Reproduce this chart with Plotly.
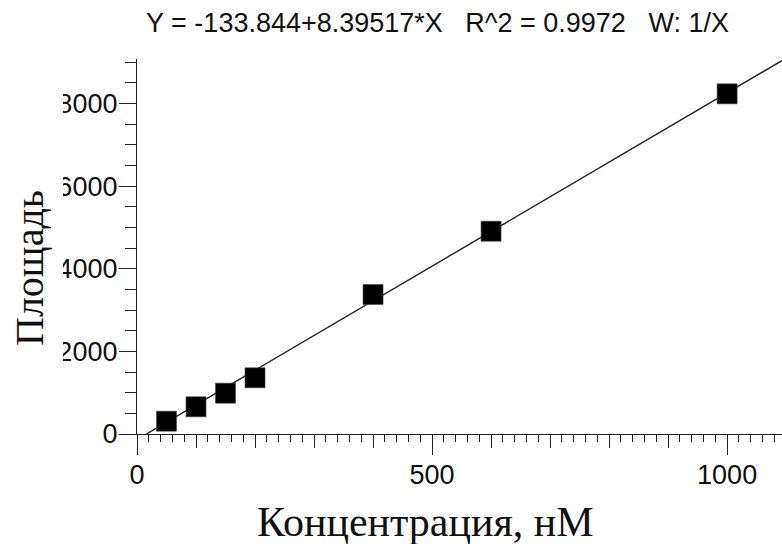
import plotly.graph_objects as go

# Calibration standards: concentration (nM) and measured peak area
concentration = [50, 100, 150, 200, 400, 600, 1000]
area = [310, 659, 988, 1361, 3378, 4910, 8237]

# Weighted (1/X) linear fit coefficients
INTERCEPT = -133.844
SLOPE = 8.39517
R2 = 0.9972

X_MAX = 1093
Y_MAX = 9080

# Fit line from its x-intercept to the right edge of the axis
fit_x = [-INTERCEPT / SLOPE, 1100]
fit_y = [INTERCEPT + SLOPE * v for v in fit_x]

AXIS_COLOR = "#222222"
TICK_FONT = dict(family="Liberation Sans, Arial", size=27, color="#111111")
SERIF = "Liberation Serif, Times New Roman, serif"

fig = go.Figure()
fig.add_trace(go.Scatter(
    x=fit_x, y=fit_y, mode="lines",
    line=dict(color="#222222", width=1.4),
    hoverinfo="skip", showlegend=False,
))
fig.add_trace(go.Scatter(
    x=concentration, y=area, mode="markers", xaxis="x2",
    marker=dict(symbol="square", size=20, color="#000000",
                line=dict(color="#444444", width=0.6)),
    showlegend=False,
))

W, H = 782, 544
ML, MR, MT, MB = 137, 0, 59, 110
plot_w = W - ML - MR
plot_h = H - MT - MB

def px_x(p):
    return (p - ML) / plot_w

def px_y(p):
    return (H - MB - p) / plot_h

title_text = (f"Y = {INTERCEPT}+{SLOPE}*X\u00a0\u00a0\u00a0R^2 = {R2}"
              f"\u00a0\u00a0\u00a0W: 1/X")

fig.update_layout(
    width=W, height=H,
    margin=dict(l=ML, r=MR, t=MT, b=MB, pad=0),
    paper_bgcolor="white", plot_bgcolor="white",
    showlegend=False,
    xaxis=dict(
        range=[0, X_MAX], autorange=False,
        showgrid=False, zeroline=False,
        showline=True, linecolor=AXIS_COLOR, linewidth=1.3,
        ticks="outside", tick0=0, dtick=500, ticklen=20, tickwidth=1.3,
        tickcolor=AXIS_COLOR, tickfont=TICK_FONT, ticklabelstandoff=-4,
        minor=dict(ticks="outside", dtick=20, tick0=0, ticklen=7,
                   tickwidth=1.1, tickcolor=AXIS_COLOR, showgrid=False),
    ),
    xaxis2=dict(
        overlaying="x", anchor="y", side="bottom",
        range=[0, X_MAX], autorange=False,
        showgrid=False, zeroline=False, showline=False,
        ticks="outside", tick0=0, dtick=100, ticklen=13, tickwidth=1.2,
        tickcolor=AXIS_COLOR, showticklabels=False,
    ),
    yaxis=dict(
        range=[0, Y_MAX], autorange=False,
        showgrid=False, zeroline=False,
        showline=True, linecolor=AXIS_COLOR, linewidth=1.3,
        ticks="outside", tick0=0, dtick=2000, ticklen=17, tickwidth=1.3,
        tickcolor=AXIS_COLOR, tickfont=TICK_FONT, automargin=False,
        ticklabelstandoff=-4,
        minor=dict(ticks="outside", dtick=500, tick0=0, ticklen=11,
                   tickwidth=1.1, tickcolor=AXIS_COLOR, showgrid=False),
    ),
    title=dict(
        text=title_text, xref="container", yref="container",
        x=437.5 / W, xanchor="center", y=1 - 23 / H, yanchor="middle",
        font=dict(family="Liberation Sans, Arial", size=27, color="#111111"),
    ),
    shapes=[dict(
        type="rect", xref="paper", yref="paper", layer="above",
        x0=px_x(-5), x1=px_x(63), y0=px_y(H + 5), y1=px_y(-5),
        fillcolor="white", line=dict(width=0),
    )],
    annotations=[
        dict(text="Площадь", textangle=-90, showarrow=False,
             xref="paper", yref="paper", x=px_x(29), y=px_y(268),
             xanchor="center", yanchor="middle",
             font=dict(family=SERIF, size=40, color="#111111")),
        dict(text="Концентрация, нМ", showarrow=False,
             xref="paper", yref="paper", x=px_x(425), y=px_y(522),
             xanchor="center", yanchor="middle",
             font=dict(family=SERIF, size=42, color="#111111")),
    ],
)

fig.write_html("out.html")
